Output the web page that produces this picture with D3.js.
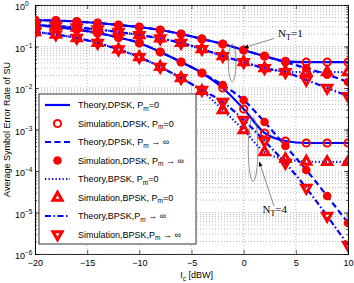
<!DOCTYPE html>
<html>
<head>
<meta charset="utf-8">
<script src="https://cdn.jsdelivr.net/npm/d3@7"></script>
<style>
body { margin: 0; background: #fff; }
text { font-family: "Liberation Sans", Arial, sans-serif; }
</style>
</head>
<body>
<script>
const icDbw = [-20, -18, -16, -14, -12, -10, -8, -6, -4, -2, 0, 2, 4, 6, 8, 10];

// N_T = 1
const dpskP0N1  = [0.435, 0.423, 0.400, 0.368, 0.330, 0.295, 0.250, 0.200, 0.152, 0.115, 0.082, 0.059, 0.044, 0.042, 0.042, 0.042];
const dpskInfN1 = [0.435, 0.423, 0.400, 0.368, 0.330, 0.295, 0.250, 0.200, 0.152, 0.115, 0.082, 0.058, 0.042, 0.030, 0.021, 0.014];
const bpskP0N1  = [0.330, 0.312, 0.287, 0.257, 0.224, 0.189, 0.156, 0.122, 0.087, 0.059, 0.042, 0.030, 0.025, 0.024, 0.024, 0.024];
const bpskInfN1 = [0.330, 0.312, 0.287, 0.257, 0.224, 0.189, 0.156, 0.122, 0.087, 0.059, 0.042, 0.030, 0.024, 0.0156, 0.0100, 0.0064];

// N_T = 4
const dpskP0N4  = [0.330, 0.295, 0.257, 0.211, 0.165, 0.122, 0.0737, 0.0423, 0.0230, 0.0100, 0.0031, 0.000824, 0.000528, 0.000473, 0.000473, 0.000473];
const dpskInfN4 = [0.330, 0.295, 0.257, 0.211, 0.165, 0.122, 0.0737, 0.0423, 0.0230, 0.0118, 0.00514, 0.00152, 0.000400, 0.000106, 0.0000250, 0.00000558];
const bpskP0N4  = [0.2236, 0.1946, 0.1603, 0.1220, 0.0847, 0.0558, 0.0321, 0.0174, 0.00847, 0.00295, 0.00097, 0.000287, 0.000195, 0.000169, 0.000165, 0.000165];
const bpskInfN4 = [0.2236, 0.1946, 0.1603, 0.1220, 0.0847, 0.0558, 0.0321, 0.0174, 0.00895, 0.0046, 0.0017, 0.00053, 0.000156, 0.0000390, 0.00000824, 0.00000165];

const xTicks = [-20, -15, -10, -5, 0, 5, 10];
const yExps = [0, -1, -2, -3, -4, -5, -6];

const legendLabels = [
  ["Theory,DPSK, P", "=0"],
  ["Simulation,DPSK, P", "=0"],
  ["Theory,DPSK, P", " \u2192 \u221e"],
  ["Simulation,DPSK, P", " \u2192 \u221e"],
  ["Theory,BPSK, P", "=0"],
  ["Simulation,BPSK, P", "=0"],
  ["Theory,BPSK,P", " \u2192 \u221e"],
  ["Simulation,BPSK,P", " \u2192 \u221e"]
];

const W = 354, H = 283;
const margin = {top: 5, right: 6, bottom: 29, left: 35};
const width = W - margin.left - margin.right;
const height = H - margin.top - margin.bottom;

const blue = "#0000ff", red = "#ff0000";

const svg = d3.select("body").append("svg")
  .attr("width", W).attr("height", H);
const g = svg.append("g")
  .attr("transform", "translate(" + margin.left + "," + margin.top + ")");

const x = d3.scaleLinear().domain([-20, 10]).range([0, width]);
const y = d3.scaleLog().domain([1e-6, 1]).range([height, 0]);

// grid
const minorVals = [];
for (let e = -6; e < 0; e++) {
  for (let k = 1; k < 10; k++) minorVals.push(k * Math.pow(10, e));
}
minorVals.push(1);

g.append("g").selectAll("line").data(minorVals).enter().append("line")
  .attr("x1", 0).attr("x2", width)
  .attr("y1", d => y(d)).attr("y2", d => y(d))
  .attr("stroke", "#000").attr("stroke-opacity", 0.45)
  .attr("stroke-width", 0.6).attr("stroke-dasharray", "1,2");

g.append("g").selectAll("line").data(xTicks).enter().append("line")
  .attr("x1", d => x(d)).attr("x2", d => x(d))
  .attr("y1", 0).attr("y2", height)
  .attr("stroke", "#000").attr("stroke-opacity", 0.45)
  .attr("stroke-width", 0.6).attr("stroke-dasharray", "1,2");

// axes with inner ticks
const fmtX = d => d < 0 ? "\u2212" + Math.abs(d) : d;
const xAxis = g.append("g").attr("transform", "translate(0," + height + ")")
  .call(d3.axisBottom(x).tickValues(xTicks).tickSize(-4).tickPadding(6).tickFormat(fmtX));
xAxis.selectAll("text").style("font-size", "9px").attr("fill", "#000");
g.append("g").call(d3.axisTop(x).tickValues(xTicks).tickSize(-4).tickFormat(""));

g.append("g").call(d3.axisLeft(y).tickValues(yExps.map(e => Math.pow(10, e))).tickSize(-4).tickFormat(""));
g.append("g").call(d3.axisLeft(y).tickValues(minorVals).tickSize(-2).tickFormat(""));
g.append("g").attr("transform", "translate(" + width + ",0)")
  .call(d3.axisRight(y).tickValues(yExps.map(e => Math.pow(10, e))).tickSize(-4).tickFormat(""));
g.append("g").attr("transform", "translate(" + width + ",0)")
  .call(d3.axisRight(y).tickValues(minorVals).tickSize(-2).tickFormat(""));
g.selectAll(".domain").attr("stroke", "#000").attr("stroke-width", 0.8);
g.selectAll(".tick line").attr("stroke", "#000").attr("stroke-width", 0.6);

// y tick labels 10^e
yExps.forEach(e => {
  const t = g.append("text")
    .attr("x", -20).attr("y", y(Math.pow(10, e)) + 5)
    .style("font-size", "9px");
  t.append("tspan").text("10");
  t.append("tspan").attr("dy", -4).style("font-size", "6.5px")
    .text(e === 0 ? "0" : "\u2212" + Math.abs(e));
});

// clip
svg.append("defs").append("clipPath").attr("id", "clip")
  .append("rect").attr("width", width).attr("height", height);
const plot = g.append("g").attr("clip-path", "url(#clip)");

const line = d3.line()
  .x((d, i) => x(icDbw[i]))
  .y(d => y(d))
  .curve(d3.curveMonotoneX);

const series = [
  {data: [dpskP0N1, dpskP0N4], dash: null, marker: "circleOpen"},
  {data: [dpskInfN1, dpskInfN4], dash: "6,3.5", marker: "circleFill"},
  {data: [bpskP0N1, bpskP0N4], dash: "1.3,2.2", marker: "triUp"},
  {data: [bpskInfN1, bpskInfN4], dash: "6,2.5,1.5,2.5", marker: "triDown"}
];

function drawMarker(sel, type, cx, cy) {
  if (type === "circleOpen") {
    sel.append("circle").attr("cx", cx).attr("cy", cy).attr("r", 3.6)
      .attr("fill", "none").attr("stroke", red).attr("stroke-width", 2);
  } else if (type === "circleFill") {
    sel.append("circle").attr("cx", cx).attr("cy", cy).attr("r", 4.3)
      .attr("fill", red);
  } else {
    const rot = type === "triDown" ? 180 : 0;
    sel.append("path")
      .attr("d", d3.symbol().type(d3.symbolTriangle).size(36)())
      .attr("transform", "translate(" + cx + "," + cy + ") rotate(" + rot + ")")
      .attr("fill", "none").attr("stroke", red).attr("stroke-width", 3)
      .attr("stroke-linejoin", "miter");
  }
}

// lines first, then markers on top
series.forEach(s => {
  s.data.forEach(arr => {
    plot.append("path").datum(arr)
      .attr("d", line)
      .attr("fill", "none").attr("stroke", blue).attr("stroke-width", 2.2)
      .attr("stroke-dasharray", s.dash);
  });
});
series.forEach(s => {
  s.data.forEach(arr => {
    const mg = plot.append("g");
    arr.forEach((v, i) => drawMarker(mg, s.marker, x(icDbw[i]), y(v)));
  });
});

// annotations
const defs = svg.select("defs");
defs.append("marker").attr("id", "arrow")
  .attr("viewBox", "0 0 10 10").attr("refX", 9).attr("refY", 5)
  .attr("markerWidth", 7).attr("markerHeight", 7).attr("orient", "auto")
  .append("path").attr("d", "M0,1 L10,5 L0,9 z").attr("fill", "#000");

g.append("ellipse").attr("cx", x(-1.1)).attr("cy", y(0.0405)).attr("rx", 3.8).attr("ry", 19)
  .attr("fill", "none").attr("stroke", "#777").attr("stroke-width", 0.8);
g.append("ellipse").attr("cx", x(0.9)).attr("cy", y(0.00033)).attr("rx", 4.8).attr("ry", 32)
  .attr("fill", "none").attr("stroke", "#777").attr("stroke-width", 0.8);

g.append("line").attr("x1", x(2.9)).attr("y1", y(0.156)).attr("x2", x(0.05)).attr("y2", y(0.094))
  .attr("stroke", "#555").attr("stroke-width", 0.7).attr("marker-end", "url(#arrow)");
g.append("line").attr("x1", x(2.9)).attr("y1", y(0.0000143)).attr("x2", x(1.5)).attr("y2", y(0.000165))
  .attr("stroke", "#555").attr("stroke-width", 0.7).attr("marker-end", "url(#arrow)");

function ntLabel(px, py, n) {
  const t = g.append("text").attr("x", px).attr("y", py)
    .style("font-family", "'Liberation Serif', 'Times New Roman', serif")
    .style("font-size", "11px");
  t.append("tspan").text("N");
  t.append("tspan").attr("dy", 3).style("font-size", "8px").text("T");
  t.append("tspan").attr("dy", -3).text("=" + n);
}
ntLabel(x(3.3), y(0.17), 1);
ntLabel(x(1.8), y(0.0000095), 4);

// legend
const lg = g.append("g").attr("transform", "translate(4," + 89 + ")");
lg.append("rect").attr("width", 157).attr("height", 150)
  .attr("fill", "#fff").attr("stroke", "#000").attr("stroke-width", 0.8);
legendLabels.forEach((lab, i) => {
  const s = series[Math.floor(i / 2)];
  const ry = 11 + i * 18.5;
  const row = lg.append("g");
  if (i % 2 === 0) {
    row.append("line").attr("x1", 6).attr("x2", 31).attr("y1", ry).attr("y2", ry)
      .attr("stroke", blue).attr("stroke-width", 2.2).attr("stroke-dasharray", s.dash);
  } else {
    drawMarker(row, s.marker, 18.5, ry);
  }
  const t = row.append("text").attr("x", 39).attr("y", ry + 3.2).style("font-size", "9px");
  t.append("tspan").text(lab[0]);
  t.append("tspan").attr("dy", 2.5).style("font-size", "6.5px").text("m");
  t.append("tspan").attr("dy", -2.5).text(lab[1]);
});

// axis titles
const xl = svg.append("text").attr("x", margin.left + x(-4.5)).attr("y", 278)
  .attr("text-anchor", "middle").style("font-size", "9px");
xl.append("tspan").text("I");
xl.append("tspan").attr("dy", 2.5).style("font-size", "6.5px").text("c");
xl.append("tspan").attr("dy", -2.5).text(" [dBW]");

svg.append("text")
  .attr("transform", "translate(10," + (margin.top + height / 2) + ") rotate(-90)")
  .attr("text-anchor", "middle").style("font-size", "9px")
  .text("Average Symbol Error Rate of SU");
</script>
</body>
</html>
